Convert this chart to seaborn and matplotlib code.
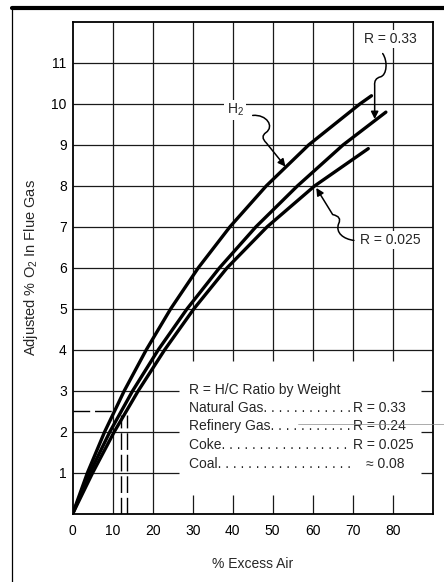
import numpy as np
import pandas as pd
import matplotlib.pyplot as plt
import seaborn as sns
from matplotlib.path import Path
from matplotlib.patches import FancyArrowPatch
from matplotlib.lines import Line2D

# curves (% excess air where each curve crosses the O2 grid lines)
h2_air = [0, 3.7, 8.0, 12.9, 18.4, 24.5, 31.4, 39.3, 48.4, 59.0, 71.8, 74.7]
h2_o2 = [0, 1, 2, 3, 4, 5, 6, 7, 8, 9, 10, 10.2]
ng_air = [0, 4.3, 9.3, 15.0, 21.4, 28.6, 36.7, 45.8, 56.2, 67.6, 78.3]
ng_o2 = [0, 1, 2, 3, 4, 5, 6, 7, 8, 9, 9.8]
coke_air = [0, 5.0, 10.4, 16.4, 23.0, 30.3, 38.6, 48.6, 60.5, 73.9]
coke_o2 = [0, 1, 2, 3, 4, 5, 6, 7, 8, 8.91]

# dashed reading example
dash_o2 = 2.5
dash_air_left = 9.8
dash_air_drop = [12.2, 13.6]

x_ticks = [0, 10, 20, 30, 40, 50, 60, 70, 80]
y_ticks = [1, 2, 3, 4, 5, 6, 7, 8, 9, 10, 11]

fuels = ["Natural Gas", "Refinery Gas", "Coke", "Coal"]
fuel_r = ["R = 0.33", "R = 0.24", "R = 0.025", "\u2248 0.08"]
fuel_dots = [". . . . . . . . . . . .", ". . . . . . . . . . .", ". . . . . . . . . . . . . . . . .",
             ". . . . . . . . . . . . . . . . . ."]

df = pd.concat([
    pd.DataFrame({"air": h2_air, "o2": h2_o2, "fuel": "H2"}),
    pd.DataFrame({"air": ng_air, "o2": ng_o2, "fuel": "R=0.33"}),
    pd.DataFrame({"air": coke_air, "o2": coke_o2, "fuel": "R=0.025"}),
])

sns.set_style("white")
plt.rcParams['font.family'] = ['Liberation Sans', 'DejaVu Sans']
plt.rcParams['mathtext.fontset'] = 'custom'
plt.rcParams['mathtext.rm'] = 'Liberation Sans'
plt.rcParams['mathtext.it'] = 'Liberation Sans'

fig = plt.figure(figsize=(4.44, 5.82), dpi=100)
ax = fig.add_axes([0.1637, 0.1174, 0.8108, 0.8448])

# grid, with a blank box in the lower right for the key
gcol = '#1a1a1a'
for xv in [10, 20]:
    ax.vlines(xv, 0, 12, color=gcol, lw=0.9, zorder=1)
for xv in [30, 40, 50, 60, 70, 80]:
    ax.vlines(xv, 3.72, 12, color=gcol, lw=0.9, zorder=1)
    ax.vlines(xv, 0, 0.45, color=gcol, lw=0.9, zorder=1)
for yv in range(4, 12):
    ax.hlines(yv, 0, 90, color=gcol, lw=0.9, zorder=1)
for yv in [1, 2, 3]:
    ax.hlines(yv, 0, 26.7, color=gcol, lw=0.9, zorder=1)
    ax.hlines(yv, 87.0, 90, color=gcol, lw=0.9, zorder=1)

sns.lineplot(data=df, x="air", y="o2", hue="fuel", palette=["black"] * 3,
             sort=False, estimator=None, legend=False, lw=2.4, ax=ax, zorder=3)
for ln in ax.lines:
    ln.set_solid_joinstyle('round')

# dashed example lines
ax.hlines(dash_o2, 0, dash_air_left, color='black', lw=1.0, linestyles=(0, (12, 3.5)), zorder=2)
for xv in dash_air_drop:
    ax.vlines(xv, 0, 2.4, color='black', lw=1.0, linestyles=(0, (12, 3.5)), zorder=2)

ax.set_xlim(0, 90)
ax.set_ylim(0, 12)
ax.set_xticks(x_ticks)
ax.set_yticks(y_ticks)
ax.tick_params(length=0, labelsize=10, colors='black')
ax.tick_params(axis='x', pad=7.4)
ax.tick_params(axis='y', pad=4.3)
for s in ax.spines.values():
    s.set_visible(True)
    s.set_color('black')
    s.set_linewidth(1.3)

ax.set_xlabel("% Excess Air", fontsize=10)
ax.set_ylabel("Adjusted % O$_2$ In Flue Gas", fontsize=10.5)
ax.xaxis.set_label_coords(0.5, -0.088)
ax.yaxis.set_label_coords(-0.09, 0.5)

# curve labels with curly leader arrows
def curly(pts, codes):
    arr = FancyArrowPatch(path=Path(pts, codes), arrowstyle='-|>', mutation_scale=11,
                          color='black', lw=1.1, transform=ax.transData, zorder=4)
    ax.add_patch(arr)

box = dict(fc='white', ec='none', pad=1.5)
ax.text(79.4, 11.58, "R = 0.33", fontsize=10, ha='center', va='center', bbox=box, zorder=5)
curly([(77.5, 11.23), (78.8, 11.05), (78.6, 10.7), (76.9, 10.66), (75.3, 10.62), (75.5, 10.45), (75.5, 9.63)],
      [Path.MOVETO, Path.CURVE4, Path.CURVE4, Path.CURVE4, Path.CURVE3, Path.CURVE3, Path.LINETO])

ax.text(40.6, 9.85, "H$_2$", fontsize=10, ha='center', va='center', bbox=box, zorder=5)
curly([(45.0, 9.72), (48.5, 9.75), (50.5, 9.45), (48.3, 9.30), (46.8, 9.2), (48.4, 9.05), (53.2, 8.47)],
      [Path.MOVETO, Path.CURVE4, Path.CURVE4, Path.CURVE4, Path.CURVE3, Path.CURVE3, Path.LINETO])

ax.text(79.5, 6.67, "R = 0.025", fontsize=10, ha='center', va='center', bbox=box, zorder=5)
curly([(70.3, 6.67), (67.8, 6.7), (65.6, 6.85), (66.5, 7.08), (67.4, 7.25), (65.0, 7.3), (60.9, 7.95)],
      [Path.MOVETO, Path.CURVE4, Path.CURVE4, Path.CURVE4, Path.CURVE3, Path.CURVE3, Path.LINETO])

# key
key_x = 29.2
key_rows = [2.59, 2.14, 1.68, 1.22]
ax.text(key_x, 3.02, "R = H/C Ratio by Weight", fontsize=10, ha='left', va='center')
for name, dots, r, yv in zip(fuels, fuel_dots, fuel_r, key_rows):
    ax.text(key_x, yv, name + dots, fontsize=10, ha='left', va='center')
    if r.startswith("R"):
        ax.text(70.1, yv, r, fontsize=10, ha='left', va='center')
    else:
        ax.text(73.4, yv, r, fontsize=10, ha='left', va='center')

# page frame and scan line
fig.add_artist(Line2D([12 / 444, 1], [1 - 8 / 582, 1 - 8 / 582], color='black', lw=3.0))
fig.add_artist(Line2D([12 / 444, 12 / 444], [1 - 8 / 582, 0], color='black', lw=0.9))
fig.add_artist(Line2D([298 / 444, 1], [1 - 423.7 / 582, 1 - 423.7 / 582], color='#8a8a8a', lw=0.5))

fig.savefig("out.png", dpi=100)
